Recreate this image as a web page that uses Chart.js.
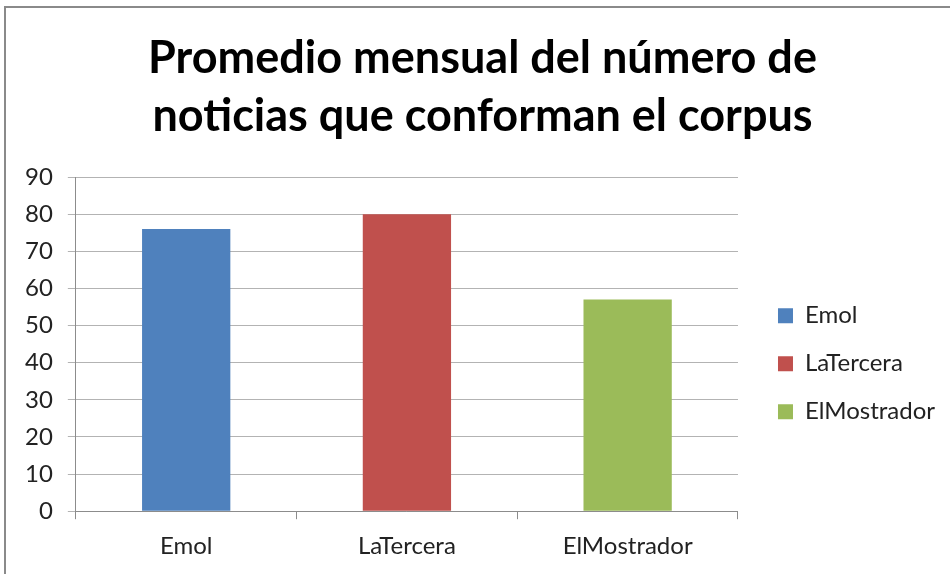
<!DOCTYPE html>
<html>
<head>
<meta charset="utf-8">
<script src="https://cdn.jsdelivr.net/npm/chart.js@4"></script>
<style>
  html, body { margin: 0; padding: 0; background: #fff; overflow: hidden; }
  #frame {
    position: absolute; left: 4px; top: 6px; width: 1000px; height: 1000px;
    border: 2px solid #8a8a8a; box-sizing: border-box;
  }
  #wrap { position: absolute; left: 0; top: 0; width: 950px; height: 574px; }
</style>
</head>
<body>
<div id="frame"></div>
<div id="wrap"><canvas id="chart" width="950" height="574"></canvas></div>
<script>
// ── Datos ----------------------------------------------------------------
const categories = ['Emol', 'LaTercera', 'ElMostrador'];
const promedios  = [76, 80, 57];
const barColors  = ['#4F81BD', '#C0504D', '#9BBB59'];
const yTicks     = [0, 10, 20, 30, 40, 50, 60, 70, 80, 90];

const FONT = 'Lato, Calibri, "Noto Sans", sans-serif';

// desplaza la leyenda (hueco con el área del gráfico) y centra el título como en Excel
const shiftBoxes = {
  id: 'shiftBoxes',
  afterLayout(chart) {
    const lg = chart.legend;
    if (lg) { lg.left += 16; lg.right += 16; }
    const tb = chart.titleBlock;
    if (tb) { tb.left += 13; tb.right += 13; }
  }
};

function drawChart() {
  const ctx = document.getElementById('chart').getContext('2d');

  new Chart(ctx, {
    type: 'bar',
    data: {
      labels: categories,
      datasets: [{
        label:              'Promedio',
        data:               promedios,
        backgroundColor:    barColors,
        borderWidth:        0,
        categoryPercentage: 1.0,
        barPercentage:      0.4,
      }]
    },
    plugins: [shiftBoxes],
    options: {
      responsive: false,
      animation: false,
      layout: { padding: { top: 10, left: 10, right: 21, bottom: 0 } },
      plugins: {
        title: {
          display: true,
          text: ['Promedio mensual del número de', 'noticias que conforman el corpus'],
          color: '#000',
          font: { family: FONT, size: 45, weight: 'bold', lineHeight: 1.29 },
          padding: { top: 19, bottom: 32 }
        },
        legend: {
          position: 'right',
          align: 'center',
          fullSize: false,
          title: { display: true, text: '', font: { size: 10 }, padding: { top: 27, bottom: 0 } },
          labels: {
            color: '#222',
            font: { family: FONT, size: 24 },
            boxWidth: 15,
            boxHeight: 15,
            padding: 24,
            generateLabels: (chart) => categories.map((c, i) => ({
              text: c,
              fillStyle: barColors[i],
              strokeStyle: barColors[i],
              fontColor: '#222',
              lineWidth: 0,
              index: i
            }))
          }
        },
        tooltip: { enabled: false }
      },
      scales: {
        x: {
          grid: {
            offset: true,
            drawOnChartArea: false,
            drawTicks: true,
            tickLength: 8,
            color: '#8c8c8c'
          },
          border: { display: true, color: '#8c8c8c', width: 1 },
          ticks: { color: '#222', font: { family: FONT, size: 24 }, padding: 13 }
        },
        y: {
          min: 0,
          max: 90,
          afterBuildTicks: (axis) => { axis.ticks = yTicks.map(v => ({ value: v })); },
          grid: { color: '#b3b3b3', lineWidth: 1, tickLength: 8 },
          border: { display: true, color: '#8c8c8c', width: 1 },
          ticks: { color: '#222', font: { family: FONT, size: 24 }, padding: 15 }
        }
      }
    }
  });
}

window.addEventListener('DOMContentLoaded', () => {
  drawChart();
});
</script>
</body>
</html>
